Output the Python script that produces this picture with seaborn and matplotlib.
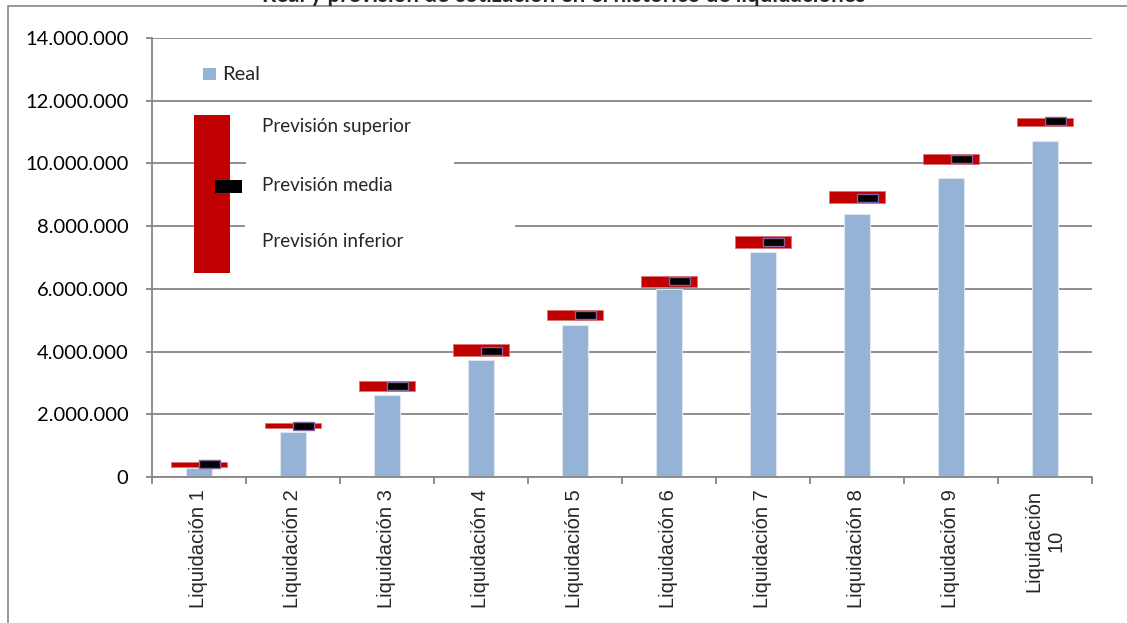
import numpy as np
import pandas as pd
import seaborn as sns
import matplotlib.pyplot as plt
from matplotlib.patches import Rectangle
from matplotlib.ticker import FuncFormatter, FixedLocator

sns.set_style("white")
plt.rcParams['font.family'] = ['Lato', 'DejaVu Sans']

# datos
liquidaciones = [f"Liquidación {i}" for i in range(1, 10)] + ["Liquidación\n10"]
real = [0.30e6, 1.43e6, 2.61e6, 3.73e6, 4.85e6, 6.00e6, 7.17e6, 8.39e6, 9.53e6, 10.71e6]
prev_sup = [0.49e6, 1.71e6, 3.06e6, 4.24e6, 5.33e6, 6.41e6, 7.68e6, 9.12e6, 10.30e6, 11.44e6]
prev_inf = [0.33e6, 1.55e6, 2.74e6, 3.87e6, 5.00e6, 6.06e6, 7.30e6, 8.74e6, 9.97e6, 11.20e6]
prev_media = [0.43e6, 1.63e6, 2.90e6, 4.03e6, 5.16e6, 6.26e6, 7.49e6, 8.90e6, 10.14e6, 11.34e6]

BLUE = "#95B3D7"
RED = "#C00000"
PURPLE = "#8064A2"
GRID = "#868686"

W, H = 1127, 623
fig = plt.figure(figsize=(W / 100, H / 100), dpi=100)
ax = fig.add_axes([152 / W, 1 - 477 / H, (1092 - 152) / W, (477 - 38) / H])

df = pd.DataFrame({"liq": liquidaciones, "real": real})
sns.barplot(data=df, x="liq", y="real", color=BLUE, saturation=1, width=0.28,
            edgecolor="#DCE6F2", linewidth=0.8, ax=ax, zorder=2)

pos = np.arange(len(liquidaciones))
sup = np.array(prev_sup)
inf = np.array(prev_inf)
ax.bar(pos, sup - inf, bottom=inf, width=0.6, color=RED, edgecolor="#E07070",
       linewidth=0.6, zorder=3)

# marcador de la previsión media (rectángulo que arranca en el centro)
verts = [(0, -0.19), (1, -0.19), (1, 0.19), (0, 0.19), (0, -0.19)]
ax.plot(pos, prev_media, ls="none", marker=verts, ms=30, mfc="black",
        mec=PURPLE, mew=1.0, zorder=4)

ax.set_ylim(0, 14e6)
ax.set_xlim(-0.5, len(liquidaciones) - 0.5)
ax.set_yticks(np.arange(0, 14e6 + 1, 2e6))
ax.yaxis.set_major_formatter(FuncFormatter(lambda v, p: f"{int(v):,}".replace(",", ".")))
ax.set_xlabel("")
ax.set_ylabel("")
ax.set_axisbelow(True)
ax.yaxis.grid(True, color=GRID, linewidth=1.3)
ax.xaxis.grid(False)

for s in ["top", "right"]:
    ax.spines[s].set_visible(False)
for s in ["left", "bottom"]:
    ax.spines[s].set_color(GRID)
    ax.spines[s].set_linewidth(1.3)

ax.tick_params(axis="y", left=True, length=4, color=GRID, width=1.3, pad=13,
               labelsize=14.5, labelcolor="black")
ax.xaxis.set_minor_locator(FixedLocator(np.arange(-0.5, len(liquidaciones), 1)))
ax.tick_params(axis="x", which="minor", bottom=True, length=5, color=GRID, width=1.3)
ax.tick_params(axis="x", which="major", bottom=False, length=0, pad=9)
for lab in ax.get_xticklabels():
    lab.set_rotation(90)
    lab.set_fontfamily("Liberation Sans")
    lab.set_fontsize(14.5)
    lab.set_va("top")
    lab.set_ha("center")
    lab.set_multialignment("center")


def fx(x):
    return x / W


def fy(y):
    return 1 - y / H


def rect(x0, y0, x1, y1, **kw):
    fig.add_artist(Rectangle((fx(x0), fy(y1)), fx(x1) - fx(x0), fy(y0) - fy(y1),
                             transform=fig.transFigure, **kw))


# marco exterior del gráfico
rect(8, 6, 1200, 700, fill=False, edgecolor=GRID, linewidth=1.2, zorder=0.5)

# título (cortado en la parte superior, como en el original)
fig.text(0.5, fy(2), "Real y previsión de cotización en el histórico de liquidaciones",
         ha="center", va="baseline", fontsize=16, fontweight="bold")

# leyenda
rect(246, 140, 454, 205, facecolor="white", edgecolor="none", zorder=2)
rect(245, 210, 515, 262, facecolor="white", edgecolor="none", zorder=2)
rect(203, 68, 216, 80, facecolor=BLUE, edgecolor="none", zorder=3)
fig.text(fx(222), fy(80), "Real", fontsize=14.5, va="baseline", zorder=4)
rect(194, 115, 230, 273, facecolor=RED, edgecolor="none", zorder=3)
rect(215, 180, 242, 193, facecolor="black", edgecolor="none", zorder=4)
fig.text(fx(262), fy(132), "Previsión superior", fontsize=13.5, va="baseline", zorder=4)
fig.text(fx(262), fy(191), "Previsión media", fontsize=13.5, va="baseline", zorder=4)
fig.text(fx(262), fy(247), "Previsión inferior", fontsize=13.5, va="baseline", zorder=4)

fig.savefig("out.png", dpi=100)
